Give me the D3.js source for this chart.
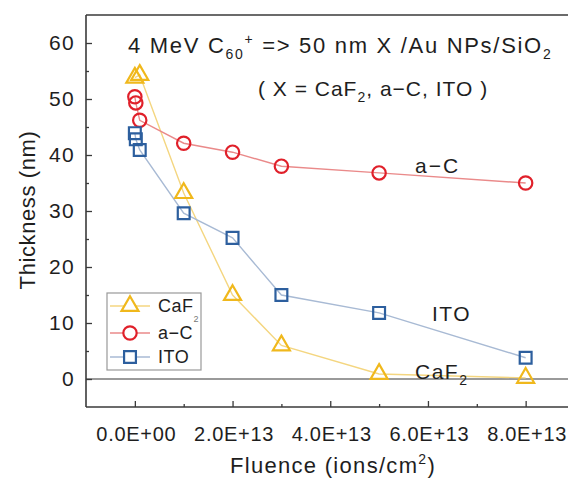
<!DOCTYPE html>
<html><head><meta charset="utf-8">
<script src="https://cdn.jsdelivr.net/npm/d3@7"></script>
<style>body{margin:0;background:#fff;} svg{display:block;font-family:"Liberation Sans",Arial,sans-serif;}</style>
</head><body>
<svg id="c" width="568" height="478"></svg>
<script>
const caf2X = [0, 1e12, 1e13, 2e13, 3e13, 5e13, 8e13];
const caf2Y = [53.8, 54.3, 33.2, 15.0, 6.0, 0.9, 0.2];
const acX = [0, 2e11, 1e12, 1e13, 2e13, 3e13, 5e13, 8e13];
const acY = [50.4, 49.3, 46.2, 42.1, 40.5, 38.0, 36.8, 35.0];
const itoX = [0, 2e11, 1e12, 1e13, 2e13, 3e13, 5e13, 8e13];
const itoY = [43.9, 42.8, 40.9, 29.6, 25.2, 15.0, 11.8, 3.8];
const xTicks = [0, 2e13, 4e13, 6e13, 8e13];
const xTickLabels = ["0.0E+00", "2.0E+13", "4.0E+13", "6.0E+13", "8.0E+13"];
const yTicks = [0, 10, 20, 30, 40, 50, 60];
const seriesNames = ["CaF2", "a\u2212C", "ITO"];

const svg = d3.select("#c");
const x = d3.scaleLinear().domain([-1e13, 9e13]).range([86, 574.5]);
const y = d3.scaleLinear().domain([-5, 65]).range([407, 15]);
const axisCol = "#3a3a3a";
const txtCol = "#1e1e1e";

// zero line
svg.append("line").attr("x1", x(-1e13)).attr("x2", 568).attr("y1", y(0)).attr("y2", y(0))
  .attr("stroke", "#9a9a9a").attr("stroke-width", 2);

// axes
const yAx = d3.axisLeft(y).tickValues(yTicks).tickSize(-6).tickPadding(12).tickFormat(d3.format("d"));
const gy = svg.append("g").attr("transform", `translate(${x(-1e13)},0)`).call(yAx);
const yMinor = d3.axisLeft(y).tickValues([5,15,25,35,45,55]).tickSize(-3).tickFormat("");
svg.append("g").attr("transform", `translate(${x(-1e13)},0)`).call(yMinor).select(".domain").remove();
const xAx = d3.axisBottom(x).tickValues(xTicks).tickSize(-6).tickPadding(20).tickFormat((d,i)=>xTickLabels[i]);
const gx = svg.append("g").attr("transform", `translate(0,${y(-5)})`).call(xAx);
const xMinor = d3.axisBottom(x).tickValues([1e13,3e13,5e13,7e13]).tickSize(-3).tickFormat("");
svg.append("g").attr("transform", `translate(0,${y(-5)})`).call(xMinor).select(".domain").remove();
svg.selectAll(".domain").attr("stroke", axisCol).attr("stroke-width", 1.6);
svg.selectAll(".tick line").attr("stroke", axisCol).attr("stroke-width", 1.3);
svg.selectAll(".tick text").attr("fill", txtCol).attr("font-family", "Liberation Sans, Arial, sans-serif");
gy.selectAll(".tick text").attr("font-size", 21).attr("letter-spacing", 1.3).attr("dx", 1);
gx.selectAll(".tick text").attr("font-size", 20).attr("letter-spacing", 0.7).attr("dx", 1);
gx.select(".domain").attr("d", `M${x(-1e13)},0H568`);
gy.select(".domain").attr("d", `M0,${y(65)}V${y(-5)}`);
svg.append("line").attr("x1", x(-1e13)).attr("x2", 568).attr("y1", y(65)).attr("y2", y(65))
  .attr("stroke", axisCol).attr("stroke-width", 1.6);

const series = [
  {xs: caf2X, ys: caf2Y, line: "#f4d680", col: "#f0b81c", sym: d3.symbolTriangle, size: 125},
  {xs: acX, ys: acY, line: "#ea8a8a", col: "#e0202a", sym: d3.symbolCircle, size: 140},
  {xs: itoX, ys: itoY, line: "#a8bad4", col: "#2d5f9e", sym: d3.symbolSquare, size: 140}
];
const line = d3.line().x(d=>x(d[0])).y(d=>y(d[1]));
series.forEach(s => {
  const pts = s.xs.map((v,i)=>[v, s.ys[i]]);
  svg.append("path").attr("d", line(pts)).attr("fill","none").attr("stroke", s.line).attr("stroke-width", 1.4);
});
series.forEach(s => {
  const pts = s.xs.map((v,i)=>[v, s.ys[i]]);
  svg.selectAll(null).data(pts).enter().append("path")
    .attr("d", d3.symbol().type(s.sym).size(s.size))
    .attr("transform", d=>`translate(${x(d[0])},${y(d[1])})`)
    .attr("fill", "none").attr("stroke", s.col).attr("stroke-width", 2.2);
});

// titles
const t1 = svg.append("text").attr("x", 128).attr("y", 53).attr("font-size", 22).attr("letter-spacing", 1.7).attr("fill",txtCol);
t1.append("tspan").text("4 MeV C");
t1.append("tspan").attr("font-size", 14).attr("dy", 6).text("60");
t1.append("tspan").attr("font-size", 14).attr("dy", -15).text("+");
t1.append("tspan").attr("dy", 9).text(" => 50 nm X /Au NPs/SiO");
t1.append("tspan").attr("font-size", 14).attr("dy", 6).text("2");

const t2 = svg.append("text").attr("x", 258).attr("y", 96).attr("font-size", 21).attr("letter-spacing", 1.0).attr("fill",txtCol);
t2.append("tspan").text("( X = CaF");
t2.append("tspan").attr("font-size", 14).attr("dy", 6).text("2");
t2.append("tspan").attr("dy", -6).text(", a\u2212C, ITO )");

// annotations
svg.append("text").attr("x", 415).attr("y", 173).attr("font-size", 21).attr("letter-spacing", 2).attr("fill",txtCol).text("a\u2212C");
svg.append("text").attr("x", 432).attr("y", 321).attr("font-size", 21).attr("letter-spacing", 1.5).attr("fill",txtCol).text("ITO");
const ca = svg.append("text").attr("x", 415).attr("y", 379).attr("font-size", 21).attr("letter-spacing", 1.5).attr("fill",txtCol);
ca.append("tspan").text("CaF");
ca.append("tspan").attr("font-size", 14).attr("dy", 6).text("2");

// axis titles
const xt = svg.append("text").attr("x", 333).attr("y", 473).attr("text-anchor","middle").attr("font-size", 22).attr("letter-spacing", 1.3).attr("fill",txtCol);
xt.append("tspan").text("Fluence (ions/cm");
xt.append("tspan").attr("font-size", 14).attr("dy", -9).text("2");
xt.append("tspan").attr("dy", 9).text(")");
svg.append("text").attr("transform","translate(35,210) rotate(-90)").attr("text-anchor","middle")
  .attr("font-size", 22).attr("letter-spacing", 0.6).attr("fill",txtCol).text("Thickness (nm)");

// legend
const lg = svg.append("g");
lg.append("rect").attr("x",107).attr("y",293).attr("width",94).attr("height",77)
  .attr("fill","#fff").attr("stroke","#999").attr("stroke-width",1.2);
const rows = [306, 333, 357];
series.forEach((s,i) => {
  lg.append("line").attr("x1",110).attr("x2",150).attr("y1",rows[i]).attr("y2",rows[i])
    .attr("stroke", s.line).attr("stroke-width",1.4);
  lg.append("path").attr("d", d3.symbol().type(s.sym).size(s.size))
    .attr("transform", `translate(130,${rows[i]})`).attr("fill","#fff").attr("stroke", s.col).attr("stroke-width",2.2);
  const tx = lg.append("text").attr("x",158).attr("y",rows[i]+6).attr("font-size",18).attr("letter-spacing",0.5).attr("fill",txtCol);
  if (i===0) { tx.append("tspan").text("CaF"); tx.append("tspan").attr("font-size",9).attr("dy",10).attr("fill","#777").text("2"); }
  else tx.text(seriesNames[i]);
});
</script>
</body></html>
